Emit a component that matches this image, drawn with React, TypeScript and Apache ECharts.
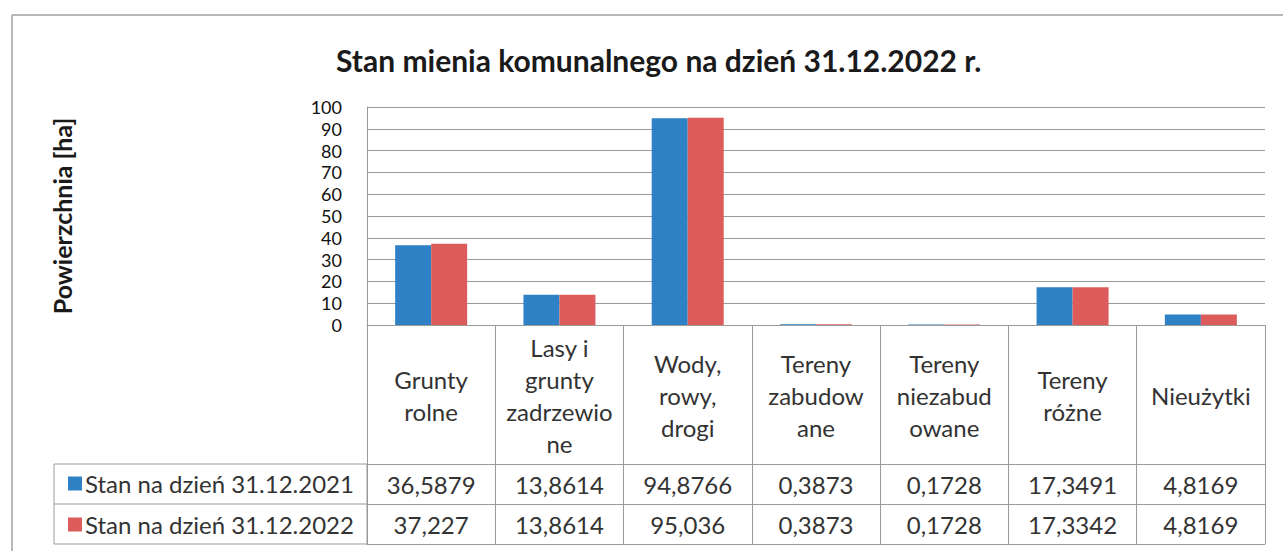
import React, { useEffect, useRef } from "react";
import * as echarts from "echarts";

const title = "Stan mienia komunalnego na dzień 31.12.2022 r.";
const yAxisTitle = "Powierzchnia [ha]";
const categories = [
  "Grunty\nrolne",
  "Lasy i\ngrunty\nzadrzewio\nne",
  "Wody,\nrowy,\ndrogi",
  "Tereny\nzabudow\nane",
  "Tereny\nniezabud\nowane",
  "Tereny\nróżne",
  "Nieużytki",
];
const seriesNames = ["Stan na dzień 31.12.2021", "Stan na dzień 31.12.2022"];
const values2021 = [36.5879, 13.8614, 94.8766, 0.3873, 0.1728, 17.3491, 4.8169];
const values2022 = [37.227, 13.8614, 95.036, 0.3873, 0.1728, 17.3342, 4.8169];
const colors = ["#2e81c4", "#dc5c5b"];

const FONT = "Lato";
const fmt = (v: number) => String(v).replace(".", ",");

export default function App() {
  const ref = useRef<HTMLDivElement>(null);
  useEffect(() => {
    if (!ref.current) return;
    const chart = echarts.init(ref.current, null, { renderer: "svg" });
    const lineColor = "#9a9a9a";
    const tableText = { fontFamily: FONT, fontSize: 24, color: "#333" };
    chart.setOption({
      animation: false,
      backgroundColor: "#fff",
      textStyle: { fontFamily: FONT },
      title: {
        text: title,
        left: 331,
        top: 40,
        textStyle: { fontFamily: FONT, fontWeight: "bold", fontSize: 30, color: "#1a1a1a" },
      },
      legend: {
        orient: "vertical",
        left: 63,
        top: 466,
        itemWidth: 14,
        itemHeight: 14,
        itemGap: 16,
        icon: "rect",
        textStyle: { ...tableText, lineHeight: 25, padding: [0, 0, 0, -2] },
        data: seriesNames,
      },
      grid: { left: 367, top: 107, width: 898, height: 218 },
      xAxis: [
        {
          type: "category",
          data: categories,
          position: "bottom",
          axisLine: { show: true, lineStyle: { color: lineColor } },
          axisTick: { show: true, interval: 0, length: 139, lineStyle: { color: lineColor } },
          axisLabel: {
            interval: 0,
            margin: 70,
            verticalAlign: "middle",
            fontFamily: FONT,
            fontSize: 24,
            lineHeight: 32,
            color: "#333",
          },
        },
        {
          type: "category",
          data: values2021.map(fmt),
          position: "bottom",
          offset: 139,
          axisLine: { show: true, lineStyle: { color: lineColor } },
          axisTick: { show: true, interval: 0, length: 40, lineStyle: { color: lineColor } },
          axisLabel: { interval: 0, margin: 20, verticalAlign: "middle", ...tableText },
        },
        {
          type: "category",
          data: values2022.map(fmt),
          position: "bottom",
          offset: 179,
          axisLine: { show: true, lineStyle: { color: lineColor } },
          axisTick: { show: true, interval: 0, length: 40, lineStyle: { color: lineColor } },
          axisLabel: { interval: 0, margin: 20, verticalAlign: "middle", ...tableText },
        },
        {
          type: "category",
          data: values2022.map(() => ""),
          position: "bottom",
          offset: 219,
          axisLine: { show: true, lineStyle: { color: lineColor } },
          axisTick: { show: false },
          axisLabel: { show: false },
        },
      ],
      yAxis: {
        type: "value",
        min: 0,
        max: 100,
        interval: 10,
        name: yAxisTitle,
        nameLocation: "middle",
        nameRotate: 90,
        nameGap: 293,
        nameTextStyle: { fontFamily: FONT, fontWeight: "bold", fontSize: 25, color: "#1a1a1a" },
        axisLine: { show: true, lineStyle: { color: lineColor } },
        axisTick: { show: false },
        axisLabel: { margin: 25, fontFamily: FONT, fontSize: 18, lineHeight: 18, color: "#111" },
        splitLine: { show: true, lineStyle: { color: lineColor, width: 1 } },
      },
      graphic: [
        { type: "line", shape: { x1: 12, y1: 15, x2: 12, y2: 551 }, style: { stroke: "#a0a0a0", lineWidth: 1.5 } },
        { type: "line", shape: { x1: 12, y1: 15, x2: 1283, y2: 15 }, style: { stroke: "#a0a0a0", lineWidth: 1.5 } },
        { type: "rect", shape: { x: 54, y: 464, width: 313, height: 80 }, style: { fill: "none", stroke: lineColor, lineWidth: 1 } },
        { type: "line", shape: { x1: 54, y1: 504, x2: 367, y2: 504 }, style: { stroke: lineColor, lineWidth: 1 } },
      ],
      series: [
        { name: seriesNames[0], type: "bar", data: values2021, barWidth: 36, barGap: "0%", itemStyle: { color: colors[0] } },
        { name: seriesNames[1], type: "bar", data: values2022, barWidth: 36, barGap: "0%", itemStyle: { color: colors[1] } },
      ],
    });
    return () => chart.dispose();
  }, []);
  return (
    <div
      ref={ref}
      style={{ position: "fixed", left: 0, top: 0, width: 1283, height: 551, background: "#fff" }}
    />
  );
}
